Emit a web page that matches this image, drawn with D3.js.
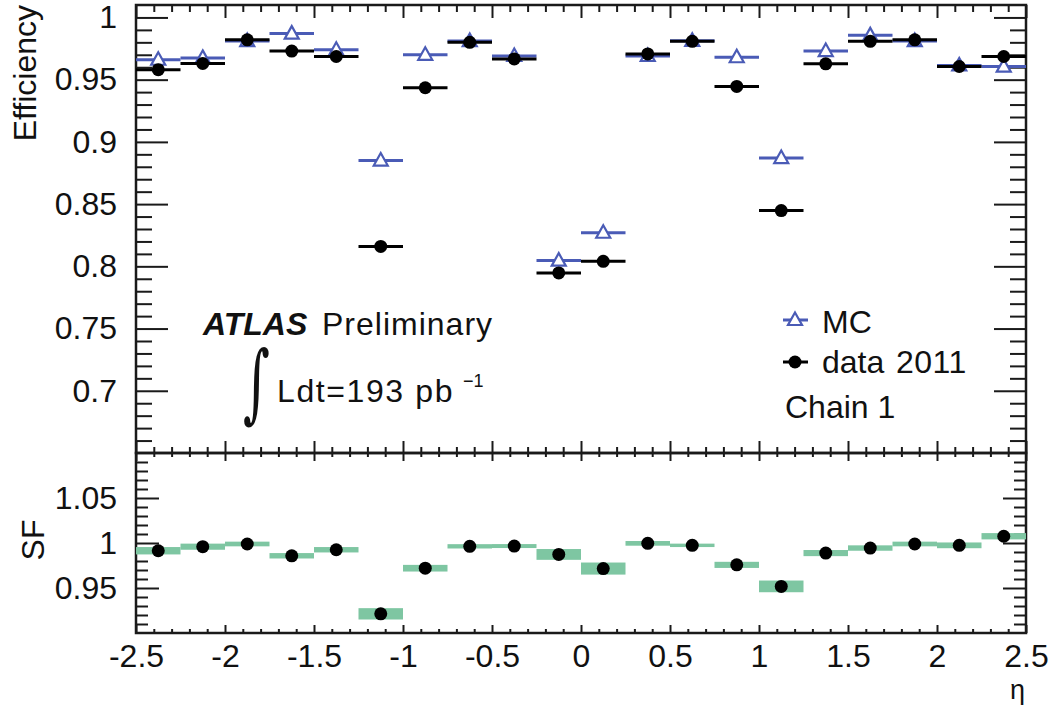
<!DOCTYPE html>
<html><head><meta charset="utf-8">
<script src="https://cdn.jsdelivr.net/npm/d3@7"></script>
<style>body{margin:0;background:#fff}svg{display:block}text{font-family:"Liberation Sans",Arial,sans-serif;fill:#111}</style>
</head><body><svg id="c" width="1057" height="707"></svg>
<script>
// ---- data ----
const binEdges = [-2.5,-2.25,-2,-1.75,-1.5,-1.25,-1,-0.75,-0.5,-0.25,0,0.25,0.5,0.75,1,1.25,1.5,1.75,2,2.25,2.5];
const mcEff   = [0.966,0.9675,0.981,0.987,0.974,0.885,0.970,0.981,0.969,0.8046,0.827,0.969,0.9812,0.968,0.887,0.973,0.9856,0.981,0.9614,0.9605];
const dataEff = [0.958,0.963,0.982,0.973,0.9686,0.816,0.9435,0.980,0.9667,0.7947,0.804,0.9707,0.9808,0.9446,0.8448,0.9627,0.9808,0.982,0.9606,0.9686];
const sfVal   = [0.9914,0.9959,0.9989,0.9858,0.9925,0.9213,0.972,0.9963,0.9966,0.9873,0.9716,0.9996,0.9974,0.9757,0.9518,0.9888,0.9944,0.9989,0.9974,1.0075];
const sfErr   = [0.0041,0.0034,0.0026,0.003,0.003,0.0063,0.0037,0.0024,0.0022,0.006,0.0067,0.0026,0.0019,0.0034,0.0065,0.0034,0.003,0.0026,0.0032,0.0035];
const xTicks = [-2.5,-2,-1.5,-1,-0.5,0,0.5,1,1.5,2,2.5];
const xTickLabels = ["-2.5","-2","-1.5","-1","-0.5","0","0.5","1","1.5","2","2.5"];
const effTicks = [0.7,0.75,0.8,0.85,0.9,0.95,1];
const effTickLabels = ["0.7","0.75","0.8","0.85","0.9","0.95","1"];
const sfTicks = [0.95,1,1.05];
const sfTickLabels = ["0.95","1","1.05"];

// ---- layout ----
const L=136,R=1026,T=5,M=453,B=633;
const blue="#4a5bb6", green="#7ec6a2", frameCol="#1a1a1a";
const svg=d3.select("#c");
const x=d3.scaleLinear([-2.5,2.5],[L,R]);
const yT=d3.scaleLinear([0.65,1.01],[M,T]);
const yB=d3.scaleLinear([0.9,1.1],[B,M]);
const bins=d3.range(20).map(i=>({lo:binEdges[i],hi:binEdges[i+1],c:(binEdges[i]+binEdges[i+1])/2,mc:mcEff[i],d:dataEff[i],sf:sfVal[i],e:sfErr[i]}));

const fmt=(vals,labels)=>(v=>{const i=vals.findIndex(t=>Math.abs(t-v)<1e-9);return i>=0?labels[i]:"";});
function ticks(g,axis){g.call(axis);g.select(".domain").remove();g.selectAll("line").attr("stroke",frameCol).attr("stroke-width",2);g.selectAll("text").attr("font-size",32).attr("fill","#111").style("font-family","Liberation Sans, Arial, sans-serif");}
const xMinor=d3.range(-25,26).map(v=>v/10).filter(v=>Math.abs(v*2-Math.round(v*2))>1e-6);
const effMinor=d3.range(66,101).map(v=>v/100).filter(v=>!effTicks.some(t=>Math.abs(t-v)<1e-9));
const sfMinor=d3.range(91,110).map(v=>v/100).filter(v=>!sfTicks.some(t=>Math.abs(t-v)<1e-9));

// top panel axes
ticks(svg.append("g").attr("transform",`translate(${L},0)`),d3.axisLeft(yT).tickValues(effTicks).tickSize(-32).tickPadding(19).tickFormat(fmt(effTicks,effTickLabels)));
ticks(svg.append("g").attr("transform",`translate(${L},0)`),d3.axisLeft(yT).tickValues(effMinor).tickSize(-16).tickFormat(""));
ticks(svg.append("g").attr("transform",`translate(${R},0)`),d3.axisRight(yT).tickValues(effTicks).tickSize(-32).tickFormat(""));
ticks(svg.append("g").attr("transform",`translate(${R},0)`),d3.axisRight(yT).tickValues(effMinor).tickSize(-16).tickFormat(""));
ticks(svg.append("g").attr("transform",`translate(0,${T})`),d3.axisTop(x).tickValues(xTicks).tickSize(-13).tickFormat(""));
ticks(svg.append("g").attr("transform",`translate(0,${T})`),d3.axisTop(x).tickValues(xMinor).tickSize(-7).tickFormat(""));
ticks(svg.append("g").attr("transform",`translate(0,${M})`),d3.axisBottom(x).tickValues(xTicks).tickSize(-12).tickFormat(""));
ticks(svg.append("g").attr("transform",`translate(0,${M})`),d3.axisBottom(x).tickValues(xMinor).tickSize(-6).tickFormat(""));
// bottom panel axes
ticks(svg.append("g").attr("transform",`translate(${L},0)`),d3.axisLeft(yB).tickValues(sfTicks).tickSize(-23).tickPadding(19).tickFormat(fmt(sfTicks,sfTickLabels)));
ticks(svg.append("g").attr("transform",`translate(${L},0)`),d3.axisLeft(yB).tickValues(sfMinor).tickSize(-12).tickFormat(""));
ticks(svg.append("g").attr("transform",`translate(${R},0)`),d3.axisRight(yB).tickValues(sfTicks).tickSize(-23).tickFormat(""));
ticks(svg.append("g").attr("transform",`translate(${R},0)`),d3.axisRight(yB).tickValues(sfMinor).tickSize(-12).tickFormat(""));
ticks(svg.append("g").attr("transform",`translate(0,${M})`),d3.axisTop(x).tickValues(xTicks).tickSize(-8).tickFormat(""));
ticks(svg.append("g").attr("transform",`translate(0,${M})`),d3.axisTop(x).tickValues(xMinor).tickSize(-4).tickFormat(""));
ticks(svg.append("g").attr("transform",`translate(0,${B})`),d3.axisBottom(x).tickValues(xTicks).tickSize(-8).tickPadding(11).tickFormat(fmt(xTicks,xTickLabels)));
ticks(svg.append("g").attr("transform",`translate(0,${B})`),d3.axisBottom(x).tickValues(xMinor).tickSize(-4).tickFormat(""));

// frames
svg.append("rect").attr("x",L).attr("y",T).attr("width",R-L).attr("height",M-T).attr("fill","none").attr("stroke",frameCol).attr("stroke-width",2.5);
svg.append("rect").attr("x",L).attr("y",M).attr("width",R-L).attr("height",B-M).attr("fill","none").attr("stroke",frameCol).attr("stroke-width",2.5);

// SF bands
svg.append("g").selectAll("rect").data(bins).join("rect")
 .attr("x",d=>x(d.lo)).attr("width",d=>x(d.hi)-x(d.lo))
 .attr("y",d=>yB(d.sf+d.e)).attr("height",d=>yB(d.sf-d.e)-yB(d.sf+d.e)).attr("fill",green);
svg.append("g").selectAll("circle").data(bins).join("circle")
 .attr("cx",d=>x(d.c)).attr("cy",d=>yB(d.sf)).attr("r",6.5).attr("fill","#000");

// MC
const tri=(cx,cy)=>`M${cx},${cy-7.5}L${cx+7},${cy+5}L${cx-7},${cy+5}Z`;
const gmc=svg.append("g");
gmc.selectAll("line").data(bins).join("line")
 .attr("x1",d=>x(d.lo)).attr("x2",d=>x(d.hi)).attr("y1",d=>yT(d.mc)).attr("y2",d=>yT(d.mc))
 .attr("stroke",blue).attr("stroke-width",3);
gmc.selectAll("path").data(bins).join("path").attr("d",d=>tri(x(d.c),yT(d.mc)))
 .attr("fill","#fff").attr("stroke",blue).attr("stroke-width",2.2);
// data
const gd=svg.append("g");
gd.selectAll("line").data(bins).join("line")
 .attr("x1",d=>x(d.lo)).attr("x2",d=>x(d.hi)).attr("y1",d=>yT(d.d)).attr("y2",d=>yT(d.d))
 .attr("stroke","#000").attr("stroke-width",3);
gd.selectAll("circle").data(bins).join("circle")
 .attr("cx",d=>x(d.c)).attr("cy",d=>yT(d.d)).attr("r",6.5).attr("fill","#000");

// titles
svg.append("text").attr("transform","translate(36,5) rotate(-90)").attr("text-anchor","end").attr("font-size",32).text("Efficiency");
svg.append("text").attr("transform","translate(44,540) rotate(-90)").attr("text-anchor","middle").attr("font-size",32).text("SF");
svg.append("text").attr("x",1025).attr("y",699).attr("text-anchor","end").attr("font-size",27).text("η");

// ATLAS label
svg.append("text").attr("x",203).attr("y",335).attr("font-size",32).attr("font-weight","bold").attr("font-style","italic").text("ATLAS");
svg.append("text").attr("x",322).attr("y",335).attr("font-size",32).attr("letter-spacing",1).text("Preliminary");
svg.append("text").attr("transform","translate(243,412) scale(0.6,1)").attr("font-size",86).style("font-family","DejaVu Serif, serif").text("∫");
svg.append("text").attr("x",277).attr("y",402).attr("font-size",32).attr("letter-spacing",1.6).text("Ldt=193 pb");
svg.append("text").attr("x",463).attr("y",387).attr("font-size",18).text("−1");

// legend
svg.append("line").attr("x1",783).attr("x2",808).attr("y1",320).attr("y2",320).attr("stroke",blue).attr("stroke-width",3);
svg.append("path").attr("d",tri(795,320)).attr("fill","#fff").attr("stroke",blue).attr("stroke-width",2.2);
svg.append("text").attr("x",822).attr("y",333).attr("font-size",32).text("MC");
svg.append("line").attr("x1",783).attr("x2",808).attr("y1",362).attr("y2",362).attr("stroke","#000").attr("stroke-width",3);
svg.append("circle").attr("cx",795).attr("cy",362).attr("r",6.5).attr("fill","#000");
svg.append("text").attr("x",822).attr("y",373).attr("font-size",32).text("data");
svg.append("text").attr("x",896).attr("y",373).attr("font-size",32).attr("letter-spacing",0.5).text("2011");
svg.append("text").attr("x",785).attr("y",418).attr("font-size",32).text("Chain 1");
</script></body></html>
